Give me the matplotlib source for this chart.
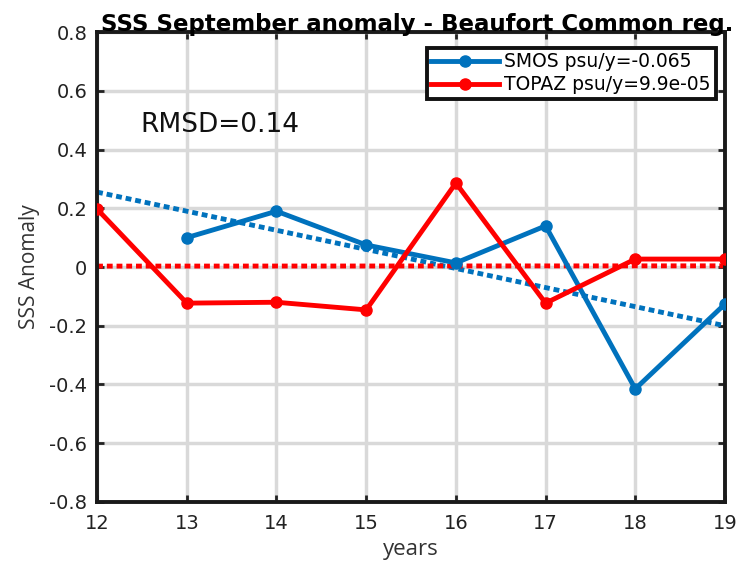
import matplotlib
matplotlib.use("Agg")
import matplotlib.pyplot as plt
import numpy as np

years = [12, 13, 14, 15, 16, 17, 18, 19]
smos_years = [13, 14, 15, 16, 17, 18, 19]
smos = [0.10, 0.19, 0.075, 0.014, 0.14, -0.415, -0.126]
topaz = [0.197, -0.123, -0.12, -0.146, 0.286, -0.123, 0.027, 0.027]
smos_trend_ends = [0.255, -0.2]
topaz_trend_ends = [0.003, 0.004]
trend_x = [12, 19]
smos_label = "SMOS psu/y=-0.065"
topaz_label = "TOPAZ psu/y=9.9e-05"
yticks = [-0.8, -0.6, -0.4, -0.2, 0, 0.2, 0.4, 0.6, 0.8]
ytick_labels = ["-0.8", "-0.6", "-0.4", "-0.2", "0", "0.2", "0.4", "0.6", "0.8"]

blue = "#0072BD"
red = "#FF0000"

fig = plt.figure(figsize=(7.47, 5.62), dpi=100)
ax = fig.add_axes([0.130, 0.1068, 0.8405, 0.8362])

ax.plot(trend_x, smos_trend_ends, linestyle=(0, (1.2, 0.8)), color=blue, lw=3.5, zorder=2)
ax.plot(trend_x, topaz_trend_ends, linestyle=(0, (1.2, 0.8)), color=red, lw=3.5, zorder=2)
ax.plot(smos_years, smos, marker="o", color=blue, lw=3.5, ms=8, label=smos_label, zorder=3)
ax.plot(years, topaz, marker="o", color=red, lw=3.5, ms=8, label=topaz_label, zorder=3)

ax.set_xlim(12, 19)
ax.set_ylim(-0.8, 0.8)
ax.set_xticks(years)
ax.set_xticklabels([str(y) for y in years])
ax.set_yticks(yticks)
ax.set_yticklabels(ytick_labels)
ax.grid(True, color="#d9d9d9", lw=2.5)
ax.set_axisbelow(True)
ax.tick_params(direction="in", top=True, right=True, length=5, width=2,
               labelsize=14, colors="#222222")
ax.tick_params(axis="x", pad=9)
ax.tick_params(axis="y", pad=7)
for s in ax.spines.values():
    s.set_linewidth(2.8)
    s.set_color("#1a1a1a")

ax.set_xlabel("years", fontsize=16, color="#333333", labelpad=4, family="Open Sans")
ax.set_ylabel("SSS Anomaly", fontsize=15, color="#333333", labelpad=7, family="Open Sans")
ax.set_title("SSS September anomaly - Beaufort Common reg.", fontsize=16.5,
             fontweight="bold", pad=1, x=0.51)
ax.text(12.48, 0.46, "RMSD=0.14", fontsize=19, color="#111111")

leg = ax.legend(loc="upper right", fontsize=13.5, frameon=True, fancybox=False,
                handlelength=3.6, handletextpad=0.3, borderpad=0.25,
                labelspacing=0.22, borderaxespad=0,
                bbox_to_anchor=(0.985, 0.967))
leg.get_frame().set_edgecolor("#111111")
leg.get_frame().set_linewidth(2.8)
leg.get_frame().set_alpha(1)

fig.savefig("out.png", dpi=100)
